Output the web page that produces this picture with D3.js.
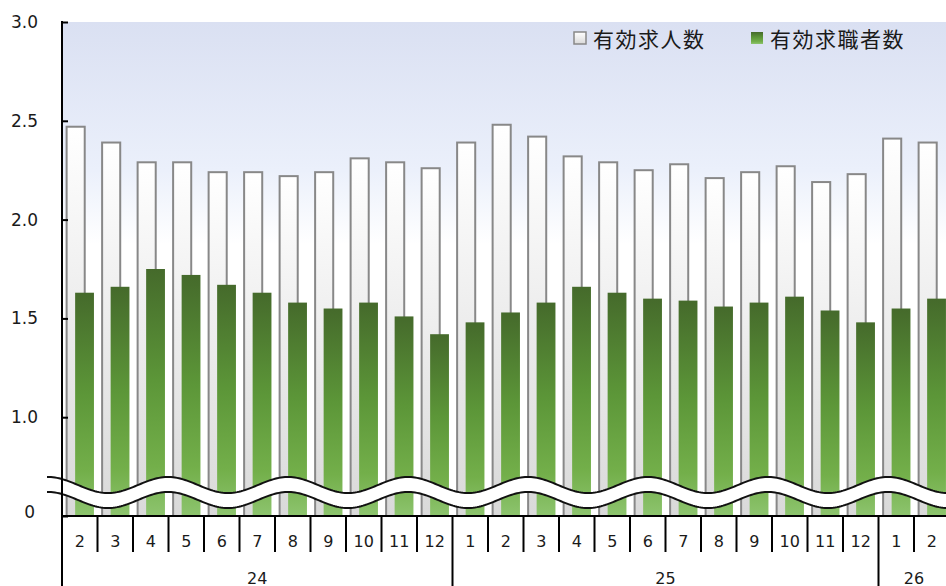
<!DOCTYPE html>
<html>
<head>
<meta charset="utf-8">
<script src="https://cdn.jsdelivr.net/npm/d3@7"></script>
<style>
  html, body { margin: 0; padding: 0; background: #fff; }
  svg { display: block; }
  .num { font-family: "DejaVu Sans", Verdana, sans-serif; fill: #1a1a1a; }
  .jp { font-family: "Noto Sans CJK JP", sans-serif; fill: #1a1a1a; }
</style>
</head>
<body>
<script>
// months shown on the axis, grouped by year
const months = [2, 3, 4, 5, 6, 7, 8, 9, 10, 11, 12, 1, 2, 3, 4, 5, 6, 7, 8, 9, 10, 11, 12, 1, 2];
const yearLabels = ["24", "25", "26"];
const yearCounts = [11, 12, 2];

// 有効求人数 / 有効求職者数
const offers  = [2.47, 2.39, 2.29, 2.29, 2.24, 2.24, 2.22, 2.24, 2.31, 2.29, 2.26,
                 2.39, 2.48, 2.42, 2.32, 2.29, 2.25, 2.28, 2.21, 2.24, 2.27, 2.19, 2.23,
                 2.41, 2.39];
const seekers = [1.63, 1.66, 1.75, 1.72, 1.67, 1.63, 1.58, 1.55, 1.58, 1.51, 1.42,
                 1.48, 1.53, 1.58, 1.66, 1.63, 1.60, 1.59, 1.56, 1.58, 1.61, 1.54, 1.48,
                 1.55, 1.60];

const seriesNames = ["有効求人数", "有効求職者数"];
const yTicks = [0.5, 1.0, 1.5, 2.0, 2.5, 3.0];

const W = 946, H = 586;
const plotLeft = 62, plotTop = 22, plotBottom = 516;

const svg = d3.select("body").append("svg")
    .attr("width", W)
    .attr("height", H);

const defs = svg.append("defs");

const bg = defs.append("linearGradient").attr("id", "bg")
    .attr("x1", 0).attr("y1", 0).attr("x2", 0).attr("y2", 1);
bg.append("stop").attr("offset", 0).attr("stop-color", "#dae0f2");
bg.append("stop").attr("offset", 0.3).attr("stop-color", "#ebf0fb");
bg.append("stop").attr("offset", 0.45).attr("stop-color", "#ffffff");
bg.append("stop").attr("offset", 1).attr("stop-color", "#ffffff");

const gWhite = defs.append("linearGradient").attr("id", "gWhite")
    .attr("x1", 0).attr("y1", 0).attr("x2", 0).attr("y2", 1);
gWhite.append("stop").attr("offset", 0).attr("stop-color", "#ffffff");
gWhite.append("stop").attr("offset", 1).attr("stop-color", "#d9d9d9");

const gGreen = defs.append("linearGradient").attr("id", "gGreen")
    .attr("x1", 0).attr("y1", 0).attr("x2", 0).attr("y2", 1);
gGreen.append("stop").attr("offset", 0).attr("stop-color", "#456a2b");
gGreen.append("stop").attr("offset", 0.45).attr("stop-color", "#5c9638");
gGreen.append("stop").attr("offset", 0.8).attr("stop-color", "#73af4a");
gGreen.append("stop").attr("offset", 1).attr("stop-color", "#8dc46e");

const x = d3.scaleBand()
    .domain(d3.range(months.length))
    .range([plotLeft, 949.5])
    .padding(0);
const bw = x.bandwidth();

const y = d3.scaleLinear()
    .domain([0.5, 3.0])
    .range([plotBottom, plotTop]);

// plot background
svg.append("rect")
    .attr("x", plotLeft).attr("y", plotTop)
    .attr("width", W - plotLeft).attr("height", plotBottom - plotTop)
    .attr("fill", "url(#bg)");

// bars
svg.append("g").selectAll("rect")
    .data(offers)
    .join("rect")
    .attr("x", (d, i) => x(i) + bw * 0.13)
    .attr("y", d => y(d))
    .attr("width", bw * 0.51)
    .attr("height", d => plotBottom - y(d))
    .attr("fill", "url(#gWhite)")
    .attr("stroke", "#888")
    .attr("stroke-width", 2);

svg.append("g").selectAll("rect")
    .data(seekers)
    .join("rect")
    .attr("x", (d, i) => x(i) + bw * 0.37)
    .attr("y", d => y(d))
    .attr("width", bw * 0.53)
    .attr("height", d => plotBottom - y(d))
    .attr("fill", "url(#gGreen)");

// wavy axis break
const waveX = d3.range(47, W + 2, 2);
const wave = xx => 485 - 8 * Math.cos(2 * Math.PI * (xx - 48) / 120);
const gap = 15;
const upper = waveX.map(xx => [xx, wave(xx)]);
const lower = waveX.map(xx => [xx, wave(xx) + gap]);
const line = d3.line();
svg.append("path")
    .attr("d", line(upper.concat(lower.slice().reverse())) + "Z")
    .attr("fill", "#fff");
svg.append("path").attr("d", line(upper))
    .attr("fill", "none").attr("stroke", "#111").attr("stroke-width", 2);
svg.append("path").attr("d", line(lower))
    .attr("fill", "none").attr("stroke", "#111").attr("stroke-width", 2);

// y axis
const yAxis = svg.append("g")
    .attr("transform", `translate(${plotLeft},0)`)
    .call(d3.axisLeft(y)
        .tickValues(yTicks)
        .tickSize(-6)
        .tickPadding(24)
        .tickFormat(d => d === 0.5 ? "0" : d3.format(".1f")(d)));
yAxis.select(".domain").remove();
yAxis.selectAll(".tick line").attr("stroke", "#000").attr("stroke-width", 2);
yAxis.selectAll(".tick text")
    .attr("class", "num")
    .style("font-size", "17px")
    .attr("dx", d => d === 0.5 ? -3 : 0)
    .attr("dy", d => d === 0.5 ? "0.1em" : "0.32em");

svg.append("line")
    .attr("x1", plotLeft).attr("x2", plotLeft)
    .attr("y1", plotTop - 1).attr("y2", H)
    .attr("stroke", "#000").attr("stroke-width", 2);

// x axis
svg.append("line")
    .attr("x1", plotLeft).attr("x2", W)
    .attr("y1", plotBottom).attr("y2", plotBottom)
    .attr("stroke", "#000").attr("stroke-width", 2);

const yearStarts = yearCounts.map((c, i) => d3.sum(yearCounts.slice(0, i)));

svg.append("g").selectAll("line")
    .data(d3.range(1, months.length + 1).filter(i => !yearStarts.includes(i)))
    .join("line")
    .attr("x1", i => i < months.length ? x(i) : x(i - 1) + bw)
    .attr("x2", i => i < months.length ? x(i) : x(i - 1) + bw)
    .attr("y1", plotBottom).attr("y2", 552)
    .attr("stroke", "#000").attr("stroke-width", 2);

svg.append("g").selectAll("line")
    .data(yearStarts.slice(1))
    .join("line")
    .attr("x1", i => x(i)).attr("x2", i => x(i))
    .attr("y1", plotBottom).attr("y2", H)
    .attr("stroke", "#000").attr("stroke-width", 2);

svg.append("g").selectAll("text")
    .data(months)
    .join("text")
    .attr("class", "num")
    .attr("x", (d, i) => x(i) + bw / 2)
    .attr("y", 541)
    .attr("text-anchor", "middle")
    .attr("dominant-baseline", "central")
    .style("font-size", "16px")
    .text(d => d);

svg.append("g").selectAll("text")
    .data(yearLabels)
    .join("text")
    .attr("class", "num")
    .attr("x", (d, i) => {
        const s = yearStarts[i], e = s + yearCounts[i] - 1;
        return (x(s) + x(e) + bw) / 2;
    })
    .attr("y", 578)
    .attr("text-anchor", "middle")
    .attr("dominant-baseline", "central")
    .style("font-size", "16px")
    .text(d => d);

// legend
const legendX = [574, 751];
const legend = svg.append("g").selectAll("g")
    .data(seriesNames)
    .join("g")
    .attr("transform", (d, i) => `translate(${legendX[i]},32)`);
legend.append("rect")
    .attr("width", 12).attr("height", 12)
    .attr("fill", (d, i) => i === 0 ? "url(#gWhite)" : "url(#gGreen)")
    .attr("stroke", (d, i) => i === 0 ? "#888" : "none")
    .attr("stroke-width", 1.5);
legend.append("text")
    .attr("class", "jp")
    .attr("x", 19)
    .attr("y", 6)
    .attr("dominant-baseline", "central")
    .style("font-size", "21px")
    .style("letter-spacing", "1.5px")
    .text(d => d);
</script>
</body>
</html>
